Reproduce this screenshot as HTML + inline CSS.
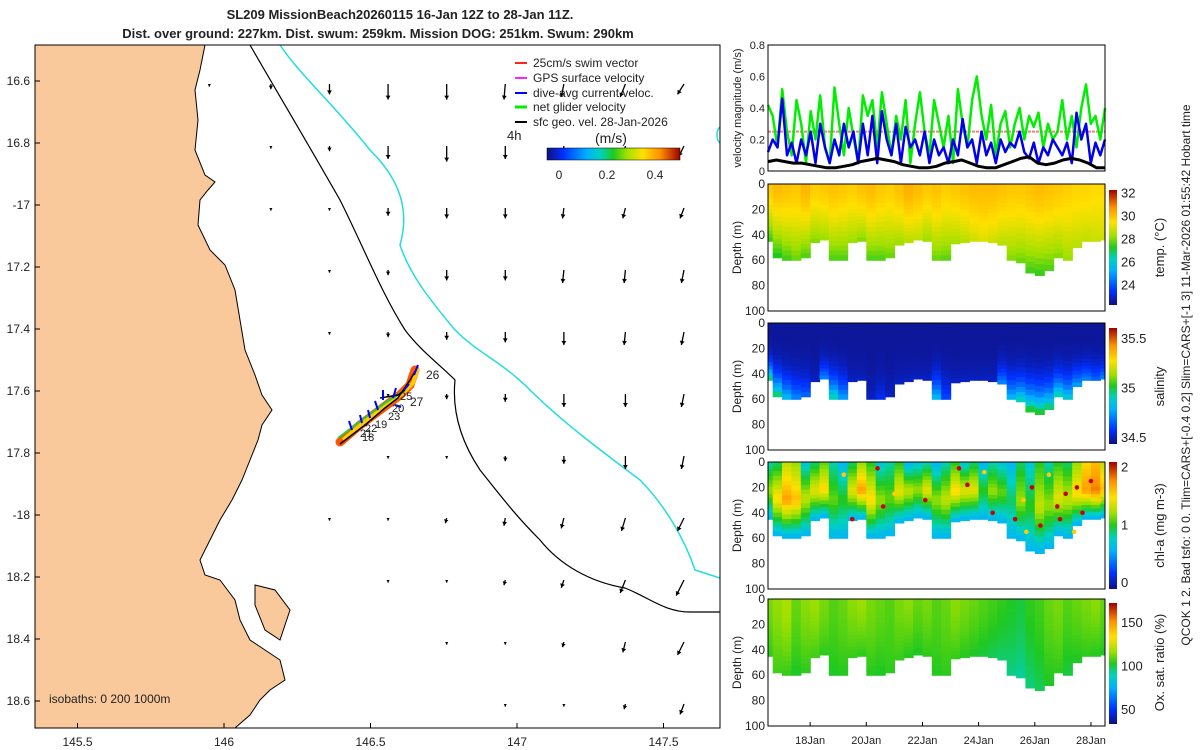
<!DOCTYPE html>
<html><head><meta charset="utf-8"><style>
body{margin:0;background:#fff;width:1200px;height:750px;overflow:hidden;font-family:"Liberation Sans",sans-serif}
svg{display:block}
text{font-family:"Liberation Sans",sans-serif;fill:#222}
</style></head><body>
<svg id="s" width="1200" height="750" viewBox="0 0 1200 750">
<defs>
<linearGradient id="jet" x1="0" y1="0" x2="1" y2="0">
<stop offset="0" stop-color="#10107f"/><stop offset=".12" stop-color="#0030ff"/><stop offset=".3" stop-color="#00b0ff"/><stop offset=".4" stop-color="#00d0c0"/><stop offset=".5" stop-color="#20c820"/><stop offset=".6" stop-color="#a0e000"/><stop offset=".72" stop-color="#ffe000"/><stop offset=".85" stop-color="#ff9000"/><stop offset="1" stop-color="#a00000"/></linearGradient>
<linearGradient id="jetv" x1="0" y1="1" x2="0" y2="0">
<stop offset="0" stop-color="#10107f"/><stop offset=".12" stop-color="#0030ff"/><stop offset=".3" stop-color="#00b0ff"/><stop offset=".4" stop-color="#00d0c0"/><stop offset=".5" stop-color="#20c820"/><stop offset=".6" stop-color="#a0e000"/><stop offset=".72" stop-color="#ffe000"/><stop offset=".85" stop-color="#ff9000"/><stop offset="1" stop-color="#a00000"/></linearGradient>
<clipPath id="mapclip"><rect x="35" y="45" width="685" height="683"/></clipPath>
</defs>
<text x="400" y="19" text-anchor="middle" font-size="13" font-weight="bold">SL209 MissionBeach20260115 16-Jan 12Z to 28-Jan 11Z.</text>
<text x="378" y="38" text-anchor="middle" font-size="13" font-weight="bold">Dist. over ground: 227km. Dist. swum: 259km. Mission DOG: 251km. Swum: 290km</text>
<g id="map" clip-path="url(#mapclip)">
<path fill="#f9c99b" stroke="#000" stroke-width="1" d="M35,45 L205,45 L200,70 L195,90 L198,120 L195,150 L205,175 L215,182 L208,190 L200,200 L198,225 L210,250 L225,265 L235,290 L240,320 L245,350 L255,375 L262,395 L272,410 L262,425 L258,440 L250,460 L242,480 L232,500 L220,520 L210,540 L200,560 L205,575 L220,580 L235,600 L240,620 L250,640 L265,650 L280,660 L285,680 L270,690 L260,700 L250,715 L235,728 L35,728 Z"/>
<path fill="#f9c99b" stroke="#000" d="M255,585 L275,590 L290,610 L280,640 L265,630 L255,605 Z"/>
<path fill="none" stroke="#000" stroke-width="1.2" d="M250,45 C270,80 300,130 340,200 C365,250 380,290 405,330 C420,350 440,365 455,380 C452,410 460,440 480,470 C500,495 515,515 540,540 C560,565 590,582 625,588 C650,598 665,612 690,612 L720,612"/>
<path fill="none" stroke="#22dddd" stroke-width="1.5" d="M280,45 C300,75 330,100 370,150 C400,180 410,210 400,245 C410,275 430,300 455,330 C480,355 500,360 530,390 C560,420 600,450 640,480 C665,505 685,540 695,570 L720,578"/>
<path fill="none" stroke="#22dddd" stroke-width="1.5" d="M720,127 C716,130 716,140 720,143"/>
<g id="arrows"></g>
<g>
<path d="M340,442 L360,425 L380,410 L400,395 L410,385 L415,370" stroke="#ff5500" stroke-width="9" fill="none" stroke-linecap="round"/>
<path d="M340,442 L360,425 L380,410 L400,395 L410,385 L415,370" stroke="#ffcc00" stroke-width="4" fill="none" transform="translate(3,-2)"/>
<path d="M338,438 L362,420 L385,403 L405,390" stroke="#22cc44" stroke-width="2" fill="none"/>
<path d="M340,444 L365,425 L385,408 L398,398 L410,380 L416,370 M380,398 L398,395 L405,390" stroke="#000" stroke-width="1.5" fill="none"/>
<path d="M352,430 l-3,-9 M362,423 l-2,-8 M378,410 l-3,-9 M383,400 l0,-10 M393,398 l3,-10 M404,390 l5,-6 M414,375 l4,-10 M370,418 l-2,-8 M395,405 l6,2" stroke="#0000ff" stroke-width="2" fill="none"/>
<text x="426" y="379" font-size="12" fill="#000">26</text>
<text x="410" y="406" font-size="12" fill="#000">27</text>
<text x="400" y="400" font-size="11" fill="#000">25</text>
<text x="392" y="412" font-size="11" fill="#000">20</text>
<text x="388" y="420" font-size="11" fill="#000">23</text>
<text x="375" y="428" font-size="11" fill="#000">19</text>
<text x="365" y="432" font-size="11" fill="#000">22</text>
<text x="360" y="437" font-size="11" fill="#000">21</text>
<text x="362" y="441" font-size="11" fill="#000">18</text>
</g>
<text x="49" y="703" font-size="12" fill="#000">isobaths: 0   200  1000m</text>
</g>
<rect x="35" y="45" width="685" height="683" fill="none" stroke="#000"/>
<g id="mapticks" font-size="12"></g>
<g font-size="12">
<line x1="515" y1="63" x2="527" y2="63" stroke="#ff2222" stroke-width="2"/><text x="533" y="67">25cm/s swim vector</text>
<line x1="515" y1="78" x2="527" y2="78" stroke="#ff22ff" stroke-width="2"/><text x="533" y="82">GPS surface velocity</text>
<line x1="515" y1="93" x2="527" y2="93" stroke="#0000ff" stroke-width="2"/><text x="533" y="97">dive-avg current veloc.</text>
<line x1="515" y1="107" x2="527" y2="107" stroke="#00ee00" stroke-width="3"/><text x="533" y="111">net glider velocity</text>
<line x1="515" y1="122" x2="527" y2="122" stroke="#000" stroke-width="2"/><text x="533" y="126">sfc geo. vel. 28-Jan-2026</text>
<text x="507" y="140" font-size="13">4h</text>
<text x="595" y="143" font-size="14">(m/s)</text>
<rect x="547" y="148" width="133" height="12" fill="url(#jet)" stroke="#000" stroke-width=".5"/>
<text x="559" y="179" text-anchor="middle">0</text><text x="607" y="179" text-anchor="middle">0.2</text><text x="655" y="179" text-anchor="middle">0.4</text>
</g>
<g id="vel"></g>
<g id="sections"></g>
<text transform="translate(1190,375) rotate(-90)" text-anchor="middle" font-size="12">QCOK 1  2. Bad tsfo: 0  0. Tlim=CARS+[-0.4 0.2] Slim=CARS+[-1 3] 11-Mar-2026 01:55:42 Hobart time</text>
</svg>
<script>
// ---------- data ----------
const latTicks=["16.6","16.8","-17","17.2","17.4","17.6","17.8","-18","18.2","18.4","18.6"];
const latVals=[-16.6,-16.8,-17,-17.2,-17.4,-17.6,-17.8,-18,-18.2,-18.4,-18.6];
const lonTicks=["145.5","146","146.5","147","147.5"];
const lonVals=[145.5,146,146.5,147,147.5];
const arrowLon=[145.95,146.16,146.36,146.56,146.76,146.96,147.16,147.37,147.57,147.76];
const arrowLat=[-16.6,-16.8,-17,-17.2,-17.4,-17.6,-17.8,-18,-18.2,-18.4,-18.6];
const arrowU=[[0,0,0,0,0,-0.005,-0.01,-0.02,-0.025,-0.02],[0,0,0,0,0,0,-0.005,-0.01,-0.02,-0.02],[0,0,0,0,0,0,-0.005,-0.01,-0.015,-0.02],[0,0,0,0,0,0,-0.005,-0.005,-0.01,-0.015],[0,0,0,0,0,0,0,-0.005,-0.01,-0.01],[0,0,0,0,0,0,0,0,-0.01,-0.01],[0,0,0,0,0,0,0,0,-0.01,-0.015],[0,0,0,0,-0.005,-0.005,-0.01,-0.015,-0.025,-0.025],[0,0,0,0,0,-0.005,-0.01,-0.02,-0.03,-0.035],[0,0,0,0,0,0,-0.005,-0.01,-0.025,-0.03],[0,0,0,0,0,0,0,-0.005,-0.015,-0.025]];
const arrowV=[[-0.01,-0.02,-0.04,-0.06,-0.06,-0.06,-0.05,-0.05,-0.04,-0.03],[0,-0.01,-0.02,-0.05,-0.06,-0.05,-0.05,-0.05,-0.04,-0.04],[0,-0.01,-0.01,-0.03,-0.04,-0.04,-0.04,-0.04,-0.04,-0.04],[0,0,-0.01,-0.02,-0.04,-0.04,-0.05,-0.05,-0.05,-0.05],[0,0,-0.01,-0.02,-0.03,-0.04,-0.05,-0.05,-0.05,-0.05],[0,0,0,-0.01,-0.02,-0.03,-0.05,-0.05,-0.05,-0.05],[0,0,0,-0.01,-0.01,-0.02,-0.03,-0.05,-0.05,-0.05],[0,0,-0.01,-0.01,-0.02,-0.03,-0.04,-0.05,-0.05,-0.05],[0,0,0,-0.01,-0.01,-0.02,-0.03,-0.05,-0.06,-0.05],[0,0,0,0,-0.01,-0.01,-0.02,-0.04,-0.05,-0.04],[0,0,0,0,0,-0.01,-0.01,-0.02,-0.04,-0.04]];
const greenVel=[0.42,0.35,0.15,0.52,0.25,0.10,0.45,0.30,0.05,0.38,0.20,0.48,0.15,0.05,0.53,0.30,0.10,0.40,0.22,0.05,0.48,0.35,0.45,0.15,0.50,0.30,0.10,0.35,0.20,0.45,0.05,0.30,0.50,0.25,0.10,0.45,0.30,0.15,0.35,0.05,0.52,0.30,0.15,0.45,0.60,0.35,0.20,0.42,0.10,0.30,0.38,0.15,0.30,0.40,0.20,0.35,0.28,0.37,0.15,0.30,0.20,0.25,0.45,0.20,0.35,0.15,0.40,0.55,0.30,0.35,0.20,0.40];
const blueVel=[0.12,0.20,0.15,0.46,0.10,0.18,0.05,0.20,0.10,0.25,0.05,0.30,0.15,0.05,0.20,0.10,0.30,0.15,0.25,0.05,0.30,0.10,0.35,0.05,0.38,0.20,0.10,0.30,0.05,0.28,0.15,0.20,0.10,0.25,0.05,0.20,0.10,0.15,0.05,0.20,0.10,0.33,0.15,0.20,0.05,0.25,0.10,0.18,0.05,0.20,0.12,0.18,0.15,0.25,0.12,0.08,0.18,0.05,0.15,0.10,0.20,0.15,0.10,0.18,0.05,0.37,0.20,0.30,0.05,0.18,0.10,0.20];
const blackVel=[0.06,0.07,0.06,0.05,0.05,0.04,0.03,0.02,0.02,0.03,0.04,0.06,0.07,0.08,0.07,0.06,0.04,0.03,0.02,0.02,0.03,0.05,0.06,0.07,0.05,0.03,0.02,0.02,0.04,0.06,0.08,0.09,0.05,0.04,0.05,0.07,0.08,0.07,0.05,0.02,0.02];
const swimVel=0.25;
const velTicks=["0","0.2","0.4","0.6","0.8"];
const dateTicks=["18Jan","20Jan","22Jan","24Jan","26Jan","28Jan"];
const dateVals=[18,20,22,24,26,28];
const mixedDepth=[45,58,60,60,58,46,44,60,60,46,45,60,60,58,48,46,44,45,60,60,47,46,45,45,46,48,60,62,70,72,68,58,60,50,45,45,44];
const tempTop=[29.8,30.0,29.9,29.8,30.1,29.7,29.8,29.9,29.8,29.7,29.9,30.0,29.8,29.7,29.9,30.2,30.0,29.8,29.9,29.7,29.8,29.9,30.0,30.0,30.0,29.9,29.8,29.8,29.9,30.0,29.9,29.8,29.7,29.6,29.6,29.5,29.5];
const tempBottom=[27.4,27.2,27.5,27.8,27.6,28.0,28.2,27.6,27.6,28.2,28.0,27.6,27.6,27.8,28.2,28.5,28.6,28.2,27.8,27.7,28.3,28.5,28.8,29.0,28.8,28.5,28.0,27.8,27.5,27.4,27.6,28.0,28.2,28.5,28.6,28.7,28.8];
const salTop=[34.46,34.46,34.46,34.46,34.46,34.46,34.46,34.46,34.46,34.46,34.46,34.46,34.46,34.46,34.46,34.46,34.46,34.46,34.46,34.46,34.46,34.46,34.46,34.46,34.46,34.46,34.46,34.46,34.46,34.46,34.46,34.46,34.46,34.46,34.46,34.46,34.46];
const salBottom=[34.95,34.95,34.8,34.7,34.65,34.5,34.7,34.9,34.75,34.5,34.5,34.5,34.55,34.5,34.5,34.5,34.5,34.5,34.8,34.6,34.5,34.5,34.5,34.5,34.5,34.7,34.8,34.9,35.0,35.0,34.95,34.9,34.85,34.75,34.7,34.65,34.7];
const chlTop=[0.8,0.9,1.3,1.2,0.7,0.9,1.1,0.8,0.6,0.9,1.2,1.0,0.7,0.8,1.0,0.6,0.7,0.8,0.6,0.8,1.0,0.7,0.9,0.6,0.8,0.7,0.6,0.9,0.7,1.0,0.8,1.0,0.9,1.2,1.5,1.6,1.3];
const chlMid=[1.2,1.5,1.7,1.6,1.3,1.4,1.5,1.1,1.0,1.4,1.7,1.5,1.2,1.1,1.4,1.3,1.2,1.4,1.2,1.3,1.5,1.4,1.4,1.0,1.2,1.1,0.9,1.2,1.0,1.3,1.2,1.4,1.3,1.5,1.7,1.8,1.6];
const oxTop=[112,115,118,110,114,116,112,108,110,114,116,112,110,108,112,114,110,112,108,110,114,112,110,108,106,104,102,100,104,106,110,112,108,110,112,114,110];
const oxBottom=[104,106,105,102,104,106,104,102,103,105,104,103,102,104,105,103,102,104,103,104,105,103,102,100,98,96,94,92,95,98,102,104,100,102,104,103,102];
const chlDotDay=[19.2,20.4,20.6,21.0,23.3,23.6,24.2,24.5,25.3,25.6,25.9,26.2,26.5,26.8,27.1,27.4,27.7,28.0,28.3,19.5,22.1,25.7,26.9,27.5];
const chlDotDepth=[10,5,35,25,5,18,8,40,45,30,20,50,10,35,25,55,40,15,30,45,30,55,45,20];

// ---------- helpers ----------
const svg=document.getElementById('s');
const NS='http://www.w3.org/2000/svg';
function mk(tag,attrs,parent){const e=document.createElementNS(NS,tag);for(const k in attrs)e.setAttribute(k,attrs[k]);parent.appendChild(e);return e;}
const lonX=l=>224+(l-146)*293;
const latY=l=>205+(-17-l)*310;
const X0=768,X1=1105,D0=16.5,D1=28.5;
const dayX=d=>X0+(d-D0)/(D1-D0)*(X1-X0);
const velY=v=>171-v/0.8*126;
const ST=[[0,16,16,127],[.12,0,48,255],[.3,0,176,255],[.4,0,208,192],[.5,32,200,32],[.6,160,224,0],[.72,255,224,0],[.85,255,144,0],[1,160,0,0]];
function jet(t){t=Math.max(0,Math.min(1,t));
 for(let i=1;i<ST.length;i++){if(t<=ST[i][0]){const a=ST[i-1],b=ST[i],f=(t-a[0])/(b[0]-a[0]);return `rgb(${Math.round(a[1]+f*(b[1]-a[1]))},${Math.round(a[2]+f*(b[2]-a[2]))},${Math.round(a[3]+f*(b[3]-a[3]))})`;}}return 'rgb(160,0,0)';}

// map ticks
const mt=document.getElementById('mapticks');
latTicks.forEach((t,i)=>{const y=latY(latVals[i]);
 const e=mk('text',{x:30,y:y+4,'text-anchor':'end'},mt);e.textContent=t;
 
 
 mk('line',{x1:35,y1:y,x2:40,y2:y,stroke:'#000'},mt);});
lonTicks.forEach((t,i)=>{const x=lonX(lonVals[i]);
 const e=mk('text',{x:x,y:746,'text-anchor':'middle'},mt);e.textContent=t;
 
 
 mk('line',{x1:x,y1:728,x2:x,y2:723,stroke:'#000'},mt);});
// arrows
const ag=document.getElementById('arrows');
arrowLat.forEach((la,r)=>arrowLon.forEach((lo,c)=>{
 const x=lonX(lo),y=latY(la)+3,u=arrowU[r][c]*260,v=-arrowV[r][c]*260;
 const x2=x+u,y2=y+v;
 const p=mk('path',{d:`M${x},${y}L${x2},${y2}`,stroke:'#000','stroke-width':1.3,fill:'none'},ag);
 
 
 const L=Math.hypot(u,v)||1,ux=u/L,uy=v/L,h=Math.min(4,L*0.4+1.5);
 mk('path',{d:`M${x2},${y2}L${x2-h*ux+h*0.6*uy},${y2-h*uy-h*0.6*ux}L${x2-h*ux-h*0.6*uy},${y2-h*uy+h*0.6*ux}Z`,fill:'#000'},ag);
}));

// velocity panel
const vg=document.getElementById('vel');
mk('rect',{x:X0,y:45,width:X1-X0,height:126,fill:'#fff'},vg);
function series(arr,color,w,name){const n=arr.length;const pts=arr.map((v,i)=>`${dayX(D0+i*(D1-D0)/(n-1)).toFixed(1)},${velY(v).toFixed(1)}`).join(' ');
 const p=mk('polyline',{points:pts,fill:'none',stroke:color,'stroke-width':w,'stroke-linejoin':'round'},vg);
 
 }
const sw=mk('line',{x1:X0,y1:velY(swimVel),x2:X1,y2:velY(swimVel),stroke:'#f08080','stroke-width':2,'stroke-dasharray':'3,1'},vg);


series(greenVel,'#00ee00',2.5,'net-glider-velocity-line');
series(blueVel,'#0000ee',2.5,'dive-avg-current-line');
series(blackVel,'#000',3,'geostrophic-velocity-line');
mk('rect',{x:X0,y:45,width:X1-X0,height:126,fill:'none',stroke:'#000'},vg);
velTicks.forEach((t,i)=>{const y=velY(i*0.2);const e=mk('text',{x:765,y:y+4,'text-anchor':'end','font-size':11},vg);e.textContent=t;
 
 });
const vt=mk('text',{transform:'translate(741,108) rotate(-90)','text-anchor':'middle','font-size':11},vg);vt.textContent='velocity magnitude (m/s)';



// sections
const secs=[
 {y:184,cb0:190,cb1:305,top:tempTop,bot:tempBottom,lo:22.2,hi:32.2,p:1.5,name:'temperature-section',label:'temp. (°C)',ticks:[32,30,28,26,24],tl:['32','30','28','26','24']},
 {y:323,cb0:328,cb1:444,top:salTop,bot:salBottom,lo:34.43,hi:35.6,p:3.5,name:'salinity-section',label:'salinity',ticks:[35.5,35,34.5],tl:['35.5','35','34.5']},
 {y:462,cb0:462,cb1:589,top:chlTop,bot:chlMid,lo:-0.12,hi:2.08,p:1,name:'chlorophyll-section',label:'chl-a (mg m-3)',ticks:[2,1,0],tl:['2','1','0'],chl:true},
 {y:599,cb0:603,cb1:724,top:oxTop,bot:oxBottom,lo:33,hi:172,p:1.5,name:'oxygen-section',label:'Ox. sat. ratio (%)',ticks:[150,100,50],tl:['150','100','50']}];
const sg=document.getElementById('sections');
const H=127;
secs.forEach(s=>{
 const g=mk('g',{},sg);
 
 
 const dY=d=>s.y+d/100*H;
 const n=mixedDepth.length,cw=(X1-X0)/(n-1);
 mixedDepth.forEach((md,i)=>{
  const x=dayX(D0+i*(D1-D0)/(n-1))-cw/2;
  const steps=16;
  for(let k=0;k<steps;k++){
   const f=k/(steps-1);let v;
   if(s.chl){v=f<0.5?s.top[i]+(s.bot[i]-s.top[i])*f*2:s.bot[i]+(0.6-s.bot[i])*(f-0.5)*2;}
   else v=s.top[i]+(s.bot[i]-s.top[i])*Math.pow(f,s.p);
   const y0=dY(md*k/steps),y1=dY(md*(k+1)/steps);
   mk('rect',{x:Math.max(X0,x).toFixed(1),y:y0.toFixed(1),width:(Math.min(X1,x+cw+0.6)-Math.max(X0,x)).toFixed(1),height:(y1-y0+0.6).toFixed(1),fill:jet((v-s.lo)/(s.hi-s.lo))},g);
  }
 });
 if(s.chl){chlDotDay.forEach((d,i)=>{const c=mk('circle',{cx:dayX(d),cy:dY(chlDotDepth[i]),r:2.3,fill:i%3==0?'#ffcc00':'#cc0000'},g);
  
  });}
 mk('rect',{x:X0,y:s.y,width:X1-X0,height:H,fill:'none',stroke:'#000'},g);
 [0,20,40,60,80,100].forEach(d=>{const e=mk('text',{x:765,y:dY(d)+4,'text-anchor':'end','font-size':12},g);e.textContent=String(d);
  
  });
 const yt=mk('text',{transform:`translate(741,${s.y+H/2}) rotate(-90)`,'text-anchor':'middle','font-size':12},g);yt.textContent='Depth (m)';
 
 
 const cb=mk('rect',{x:1109,y:s.cb0,width:8,height:s.cb1-s.cb0,fill:'url(#jetv)'},g);
 
 
 s.ticks.forEach((t,i)=>{const y=s.cb1-(t-s.lo)/(s.hi-s.lo)*(s.cb1-s.cb0);const e=mk('text',{x:1121,y:y+5,'font-size':13},g);e.textContent=s.tl[i];
  
  });
 const cl=mk('text',{transform:`translate(1164,${s.y+H/2}) rotate(-90)`,'text-anchor':'middle','font-size':13},g);cl.textContent=s.label;
 
 
});
dateTicks.forEach((t,i)=>{const x=dayX(dateVals[i]);const e=mk('text',{x:x,y:744,'text-anchor':'middle','font-size':11},sg);e.textContent=t;
 
 
 mk('line',{x1:x,y1:726,x2:x,y2:722,stroke:'#000'},sg);});
</script>
</body></html>
